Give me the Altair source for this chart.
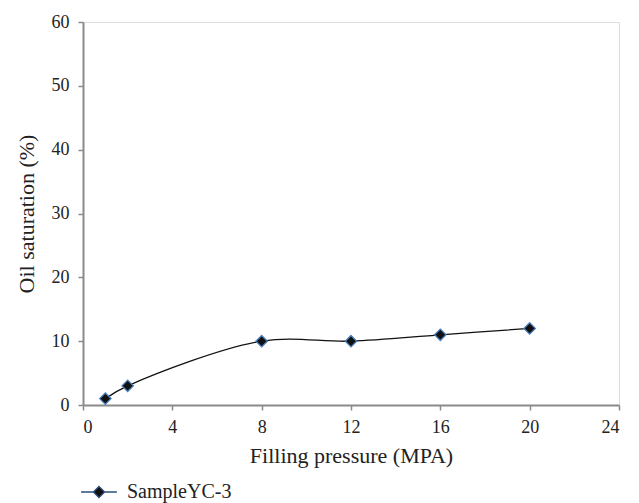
import altair as alt
import pandas as pd

pressure = [1, 2, 8, 12, 16, 20]
saturation = [1, 3, 10, 10, 11, 12]
series = ["SampleYC-3"] * len(pressure)

df = pd.DataFrame({"p": pressure, "s": saturation, "series": series})

FONT = "Liberation Serif"

common = dict(grid=False, domainColor="#8a8a8a", domainWidth=2,
              tickColor="#8a8a8a", tickWidth=1.5, tickSize=5,
              labelFont=FONT, titleFont=FONT,
              labelFontSize=18, titleFontSize=22,
              labelColor="#222", titleColor="#222", titleFontWeight="normal")

x = alt.X("p:Q", title="Filling pressure (MPA)",
          scale=alt.Scale(domain=[0, 24], nice=False),
          axis=alt.Axis(values=[0, 4, 8, 12, 16, 20, 24],
                        labelPadding=8, titlePadding=9, **common))
y = alt.Y("s:Q", title="Oil saturation (%)",
          scale=alt.Scale(domain=[0, 60], nice=False),
          axis=alt.Axis(values=[0, 10, 20, 30, 40, 50, 60],
                        labelPadding=9, titlePadding=13, **common))

color = alt.Color("series:N", scale=alt.Scale(range=["#111111"]),
                  legend=alt.Legend(title=None, orient="none", legendX=4, legendY=458,
                                    symbolType="M-1.6,0L-0.5,0M0.5,0L1.6,0M0,-0.5L0.5,0L0,0.5L-0.5,0Z",
                                    symbolSize=500, symbolStrokeWidth=1.3,
                                    symbolFillColor="#111111", symbolStrokeColor="#2a4f80",
                                    labelFontSize=20, labelFont=FONT, labelColor="#222",
                                    labelOffset=16))

line = alt.Chart(df).mark_line(interpolate="catmull-rom", color="#111111", strokeWidth=1.3).encode(
    x=x, y=y)
points = alt.Chart(df).mark_point(shape="diamond", filled=True, size=130, fill="#111111",
                                  stroke="#4a7ebb", strokeWidth=1.3, opacity=1).encode(
    x=x, y=y, color=color)

chart = alt.layer(line, points).properties(
    width=536, height=383,
    autosize=alt.AutoSizeParams(type="none"),
    padding={"left": 83, "top": 22, "right": 20, "bottom": 98},
).configure_view(stroke="#333333", strokeWidth=1.2).configure(
    font=FONT, background="white")

chart.save("out.html", embed_options={"renderer": "svg", "actions": False})
